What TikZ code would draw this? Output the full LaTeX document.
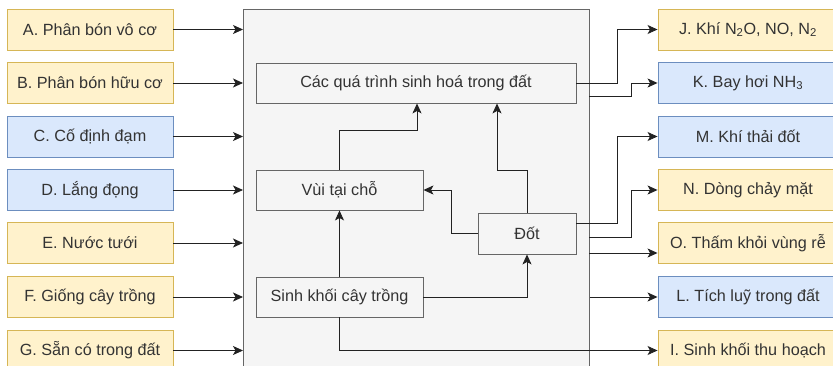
\documentclass[tikz,border=0pt]{standalone}
\usepackage{fontspec}
\setmainfont{Liberation Sans}
\usetikzlibrary{arrows.meta,calc}
\definecolor{yfill}{HTML}{FFF2CC}
\definecolor{ydraw}{HTML}{D6B656}
\definecolor{bfill}{HTML}{DAE8FC}
\definecolor{bdraw}{HTML}{6C8EBF}
\definecolor{gfill}{HTML}{F5F5F5}
\definecolor{gdraw}{HTML}{666666}
\definecolor{txt}{HTML}{333333}
\definecolor{lin}{HTML}{222222}
\begin{document}
\begin{tikzpicture}[x=1pt,y=-1pt,
  base/.style={rectangle, draw, line width=0.9pt, inner sep=0pt, text=txt,
    font=\fontsize{16.2}{19}\selectfont},
  ybox/.style={base, fill=yfill, draw=ydraw, minimum height=41pt},
  bbox/.style={base, fill=bfill, draw=bdraw, minimum height=41pt},
  gbox/.style={base, fill=gfill, draw=gdraw, minimum height=40pt},
  arr/.style={draw=lin, line width=0.9pt, -{Stealth[length=10pt,width=9pt,inset=2.5pt]}},
  ln/.style={draw=lin, line width=0.9pt}]
\useasboundingbox (0,0) rectangle (833,366);
\clip (0,0) rectangle (833,366);
% container
\node[rectangle, draw=gdraw, fill=gfill, line width=0.9pt, minimum width=346pt, minimum height=400pt, anchor=north west, inner sep=0pt] (cont) at (243,9) {};
% left boxes
\node[ybox, minimum width=166pt] (A) at (90,29.5) {A. Phân bón vô cơ};
\node[ybox, minimum width=166pt] (B) at (90,83) {B. Phân bón hữu cơ};
\node[bbox, minimum width=166pt] (C) at (90,136.5) {C. Cố định đạm};
\node[bbox, minimum width=166pt] (D) at (90,190) {D. Lắng đọng};
\node[ybox, minimum width=166pt] (E) at (90,243) {E. Nước tưới};
\node[ybox, minimum width=166pt] (F) at (90,297) {F. Giống cây trồng};
\node[ybox, minimum width=166pt] (G) at (90,350.5) {G. Sẵn có trong đất};
% right boxes
\node[ybox, minimum width=180pt] (J) at (748,29.5) {J. Khí N\textsubscript{2}O, NO, N\textsubscript{2}};
\node[bbox, minimum width=180pt] (K) at (748,83) {K. Bay hơi NH\textsubscript{3}};
\node[bbox, minimum width=180pt] (M) at (748,136.5) {M. Khí thải đốt};
\node[ybox, minimum width=180pt] (N) at (748,190) {N. Dòng chảy mặt};
\node[ybox, minimum width=180pt] (O) at (748,243) {O. Thấm khỏi vùng rễ};
\node[bbox, minimum width=180pt] (L) at (748,297) {L. Tích luỹ trong đất};
\node[ybox, minimum width=180pt] (I) at (748,350.5) {I. Sinh khối thu hoạch};
% inner boxes
\node[gbox, minimum width=320pt] (cac) at (416,83) {Các quá trình sinh hoá trong đất};
\node[gbox, minimum width=167pt] (vui) at (339.5,190) {Vùi tại chỗ};
\node[gbox, minimum width=98pt, minimum height=41pt] (dot) at (527,233.5) {Đốt};
\node[gbox, minimum width=167pt] (sinh) at (339.5,297) {Sinh khối cây trồng};
% inputs
\foreach \n in {A,B,C,D,E,F,G} {\draw[arr] (\n.east) -- (\n.east -| cont.west);}
% internal
\coordinate (v1) at (339.5,130);
\coordinate (v2) at (417,130);
\draw[arr] (sinh.north) -- (vui.south);
\draw[arr] (vui.north) -- (v1) -- (v2) -- (v2 |- cac.south);
\coordinate (d1) at (497,170);
\draw[arr] (dot.north) |- (d1) -- (d1 |- cac.south);
\coordinate (d2) at (451,233.5);
\draw[arr] (dot.west) -- (d2) |- (vui.east);
\draw[arr] (sinh.east) -| (dot.south);
% outputs
\coordinate (j1) at (617,83);
\draw[arr] (cac.east) -- (j1) |- (J.west);
\coordinate (k0) at (589,96);
\coordinate (k1) at (631,96);
\draw[arr] (k0) -- (k1) |- (K.west);
\coordinate (m0) at (576,223);
\coordinate (m1) at (617,223);
\draw[arr] (m0) -- (m1) |- (M.west);
\coordinate (n0) at (589,237);
\coordinate (n1) at (631,237);
\draw[arr] (n0) -- (n1) |- (N.west);
\coordinate (o0) at (589,253);
\draw[arr] (o0) -- (o0 -| O.west);
\draw[arr] (L.west -| cont.east) -- (L.west);
\draw[arr] (sinh.south) |- (I.west);
\end{tikzpicture}
\end{document}
